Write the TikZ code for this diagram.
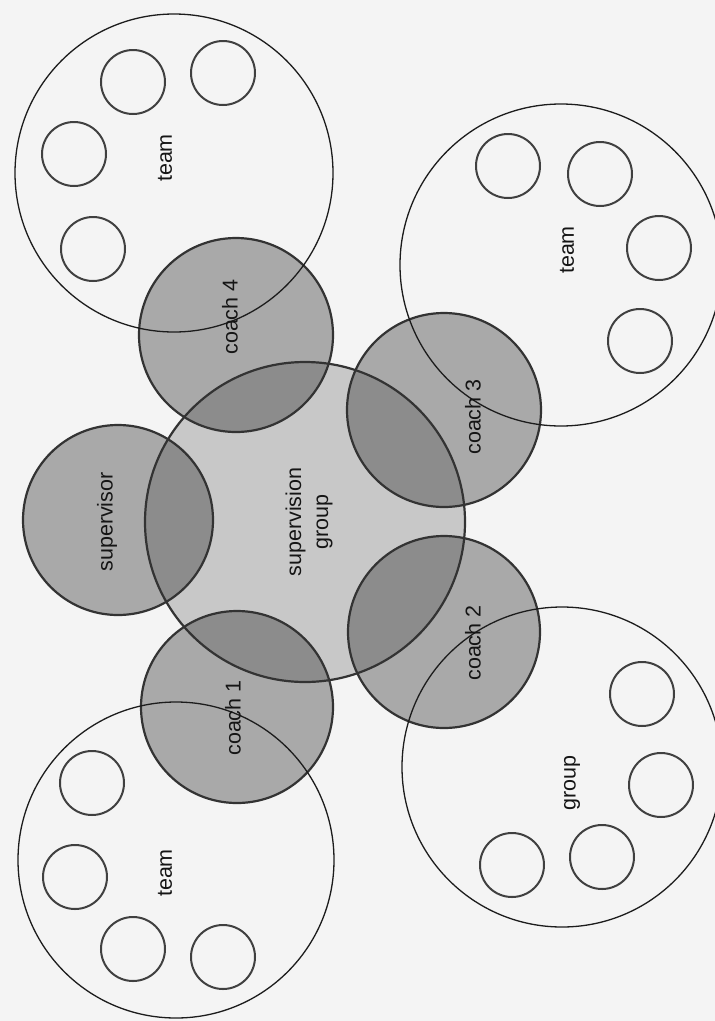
\documentclass[tikz,border=0pt]{standalone}
\usepackage{fontspec}
\setmainfont{Liberation Sans}
\definecolor{bg}{HTML}{F4F4F4}
\definecolor{sgfill}{HTML}{C8C8C8}
\definecolor{coachfill}{HTML}{A9A9A9}
\definecolor{overlapfill}{HTML}{8C8C8C}
\definecolor{edge}{HTML}{333333}
\definecolor{thin}{HTML}{1C1C1C}
\definecolor{member}{HTML}{404040}
\definecolor{ink}{HTML}{151515}
\begin{document}
\begin{tikzpicture}[x=1pt,y=-1pt,
  disc/.style={circle,inner sep=0pt,outer sep=0pt},
  sgdisc/.style={disc,fill=sgfill},
  coachdisc/.style={disc,fill=coachfill},
  coachline/.style={draw=edge,line width=2.2pt},
  teamcircle/.style={disc,draw=thin,line width=1.3pt},
  membercircle/.style={disc,draw=member,line width=2pt,minimum size=64pt},
  lbl/.style={rotate=90,text=ink,font=\fontsize{21.5}{27}\selectfont,align=center,inner sep=0pt}]
\useasboundingbox (0,0) rectangle (715,1021);
\clip (0,0) rectangle (715,1021);
\fill[bg] (0,0) rectangle (715,1021);

% central group and coaches (fills)
\node[sgdisc,minimum size=320pt] (sg) at (305,522) {};
\node[coachdisc,minimum size=190pt] (sup) at (118,520) {};
\node[coachdisc,minimum size=194pt] (c4) at (236,335) {};
\node[coachdisc,minimum size=194pt] (c3) at (444,410) {};
\node[coachdisc,minimum size=192pt] (c2) at (444,632) {};
\node[coachdisc,minimum size=192pt] (c1) at (237,707) {};

% overlaps with the supervision group
\begin{scope}
  \clip (sg.center) circle[radius=160pt];
  \fill[overlapfill] (sup.center) circle[radius=95pt];
  \fill[overlapfill] (c4.center) circle[radius=97pt];
  \fill[overlapfill] (c3.center) circle[radius=97pt];
  \fill[overlapfill] (c2.center) circle[radius=96pt];
  \fill[overlapfill] (c1.center) circle[radius=96pt];
\end{scope}

% outlines
\draw[coachline] (sg.center) circle[radius=160pt];
\draw[coachline] (sup.center) circle[radius=95pt];
\draw[coachline] (c4.center) circle[radius=97pt];
\draw[coachline] (c3.center) circle[radius=97pt];
\draw[coachline] (c2.center) circle[radius=96pt];
\draw[coachline] (c1.center) circle[radius=96pt];

% teams
\node[teamcircle,minimum size=318pt] (tTL) at (174,173) {};
\node[teamcircle,minimum size=322pt] (tTR) at (561,265) {};
\node[teamcircle,minimum size=320pt] (gBR) at (562,767) {};
\node[teamcircle,minimum size=316pt] (tBL) at (176,860) {};

% members
\node[membercircle] (m11) at (133,82) {};
\node[membercircle] (m12) at (223,73) {};
\node[membercircle] (m13) at (74,154) {};
\node[membercircle] (m14) at (93,249) {};
\node[membercircle] (m21) at (508,166) {};
\node[membercircle] (m22) at (600,174) {};
\node[membercircle] (m23) at (659,248) {};
\node[membercircle] (m24) at (640,341) {};
\node[membercircle] (m31) at (642,694) {};
\node[membercircle] (m32) at (661,785) {};
\node[membercircle] (m33) at (602,857) {};
\node[membercircle] (m34) at (512,865) {};
\node[membercircle] (m41) at (92,783) {};
\node[membercircle] (m42) at (75,877) {};
\node[membercircle] (m43) at (133,949) {};
\node[membercircle] (m44) at (223,957) {};

% labels
\node[lbl] (lsg) at (309,522) {supervision\\group};
\node[lbl] (lsup) at (107,522) {supervisor};
\node[lbl] (l4) at (230,317) {coach 4};
\node[lbl] (l3) at (473,417) {coach 3};
\node[lbl] (l2) at (473,643) {coach 2};
\node[lbl] (l1) at (233,718) {coach 1};
\node[lbl] (lt1) at (165,158) {team};
\node[lbl] (lt2) at (567,250) {team};
\node[lbl] (lg) at (572,783) {group};
\node[lbl] (lt4) at (165,873) {team};
\end{tikzpicture}
\end{document}
